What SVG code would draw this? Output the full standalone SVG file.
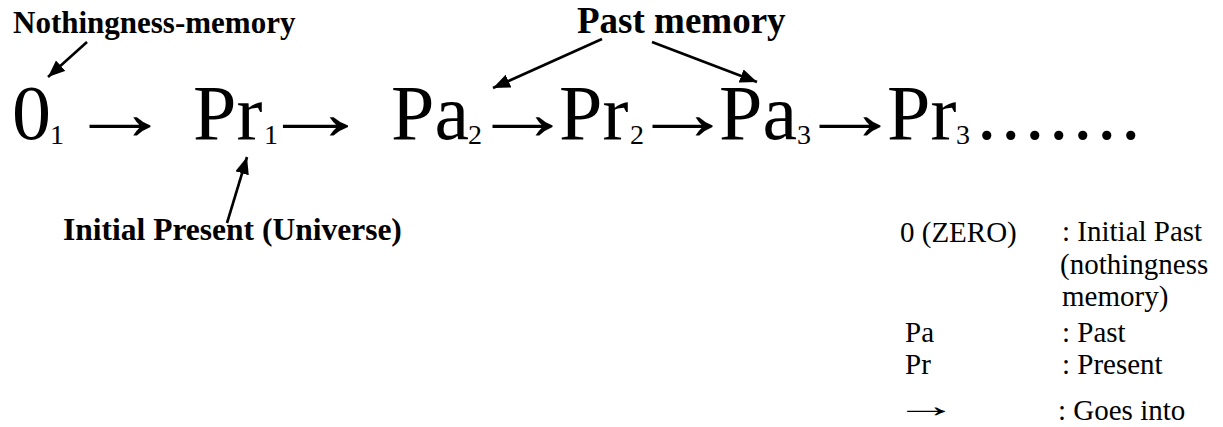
<svg xmlns="http://www.w3.org/2000/svg" width="1223" height="427" viewBox="0 0 1223 427">
<style>
.con{stroke:#000;stroke-width:2.6;fill:none;marker-end:url(#ah)}
</style>
<defs>
<marker id="ah" markerUnits="userSpaceOnUse" markerWidth="20" markerHeight="16" refX="17" refY="7" orient="auto">
<path d="M0,0 L17,7 L0,14 z" fill="#000"/>
</marker>
</defs>
<rect width="1223" height="427" fill="#fff"/>
<g id="sequence" font-family="'Liberation Serif', serif" fill="#000">
<g id="n-zero1"><text x="12" y="139" font-size="78" font-family="Liberation Serif">0</text><text x="50" y="144" font-size="28" font-family="Liberation Serif">1</text></g>
<text x="68.5" y="139" font-size="78" font-family="Liberation Serif" textLength="103" lengthAdjust="spacingAndGlyphs">→</text>
<g id="n-pr1"><text x="193" y="139" font-size="78" font-family="Liberation Serif">Pr</text><text x="264" y="144" font-size="28" font-family="Liberation Serif">1</text></g>
<text x="260.4" y="139" font-size="78" font-family="Liberation Serif" textLength="110" lengthAdjust="spacingAndGlyphs">→</text>
<g id="n-pa2"><text x="391" y="139" font-size="78" font-family="Liberation Serif">Pa</text><text x="468" y="144" font-size="28" font-family="Liberation Serif">2</text></g>
<text x="471.8" y="139" font-size="78" font-family="Liberation Serif" textLength="101.5" lengthAdjust="spacingAndGlyphs">→</text>
<g id="n-pr2"><text x="559" y="139" font-size="78" font-family="Liberation Serif">Pr</text><text x="630" y="144" font-size="28" font-family="Liberation Serif">2</text></g>
<text x="631.8" y="139" font-size="78" font-family="Liberation Serif" textLength="101.5" lengthAdjust="spacingAndGlyphs">→</text>
<g id="n-pa3"><text x="719" y="139" font-size="78" font-family="Liberation Serif">Pa</text><text x="797" y="144" font-size="28" font-family="Liberation Serif">3</text></g>
<text x="798.5" y="139" font-size="78" font-family="Liberation Serif" textLength="103" lengthAdjust="spacingAndGlyphs">→</text>
<g id="n-pr3"><text x="887" y="139" font-size="78" font-family="Liberation Serif">Pr</text><text x="956" y="144" font-size="28" font-family="Liberation Serif">3</text></g>
<text x="977 1001 1025 1049 1073 1097 1121" y="139" font-size="78" font-family="Liberation Serif">.......</text>
</g>
<g id="label-nothingness"><text x="13" y="33" font-size="31" font-weight="bold" font-family="Liberation Serif">Nothingness-memory</text></g>
<g id="label-past"><text x="577" y="33" font-size="37" font-weight="bold" font-family="Liberation Serif">Past memory</text></g>
<g id="label-initial"><text x="63" y="240" font-size="31.5" font-weight="bold" font-family="Liberation Serif">Initial Present (Universe)</text></g>
<g id="connectors">
<line class="con" x1="87" y1="42" x2="48" y2="77"/>
<line class="con" x1="227" y1="223" x2="247" y2="157"/>
<line class="con" x1="602" y1="39" x2="493" y2="88"/>
<line class="con" x1="652" y1="42" x2="757" y2="82"/>
</g>
<g id="legend" fill="#000">
<text x="900" y="242" font-size="29" font-family="Liberation Serif">0 (ZERO)</text>
<text x="1062" y="241" font-size="29" font-family="Liberation Serif">: Initial Past</text>
<text x="1060" y="274" font-size="29" font-family="Liberation Serif">(nothingness</text>
<text x="1062" y="306" font-size="29" font-family="Liberation Serif">memory)</text>
<text x="905" y="342" font-size="29" font-family="Liberation Serif">Pa</text>
<text x="1062" y="342" font-size="29" font-family="Liberation Serif">: Past</text>
<text x="905" y="374" font-size="29" font-family="Liberation Serif">Pr</text>
<text x="1062" y="374" font-size="29" font-family="Liberation Serif">: Present</text>
<text x="894" y="417" font-size="34" font-family="Liberation Serif" textLength="64" lengthAdjust="spacingAndGlyphs">→</text>
<text x="1058" y="420" font-size="29" font-family="Liberation Serif">: Goes into</text>
</g>
</svg>
